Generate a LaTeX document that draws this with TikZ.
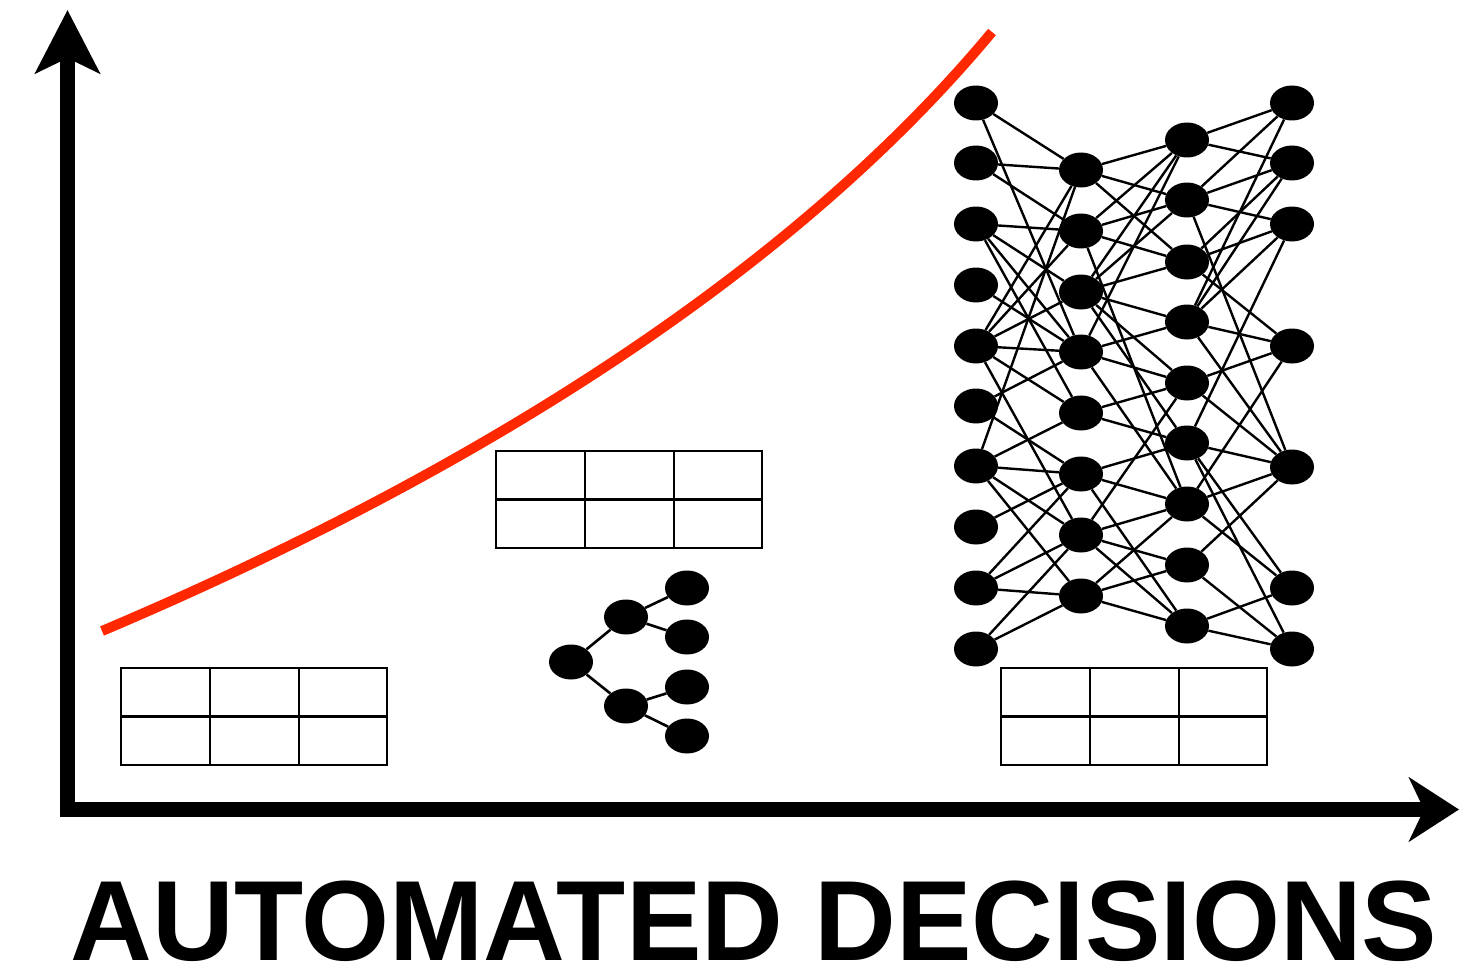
\documentclass[tikz,border=0pt]{standalone}
\usepackage{fontspec}
\setmainfont{Liberation Sans}
\usetikzlibrary{arrows.meta,shapes.geometric,backgrounds}

\definecolor{curvered}{RGB}{255,40,0}

\tikzset{
  dot/.style={ellipse,fill=black,draw=none,minimum width=44pt,minimum height=35pt,inner sep=0pt},
  netedge/.style={draw=black,line width=2.4pt},
  treeedge/.style={draw=black,line width=2.6pt},
  tableline/.style={draw=black,line width=2.4pt},
  axis/.style={line width=15pt,line join=miter},
  datatable/.pic={
    \draw[tableline] (0,0) rectangle (266,97);
    \draw[tableline] (89,0) -- (89,97) (178,0) -- (178,97) (0,48.5) -- (266,48.5);
  }
}

\begin{document}
\begin{tikzpicture}[x=1pt,y=-1pt]
\useasboundingbox (0,0) rectangle (1459,971);

% axes
\coordinate (ytip) at (67.5,10);
\coordinate (origin) at (67.5,809.5);
\coordinate (xtip) at (1459,809.5);
\draw[axis,{Stealth[length=63pt,width=64pt,inset=15pt]}-{Stealth[length=50pt,width=64pt,inset=15pt]}]
  (ytip) -- (origin) -- (xtip);

% growth curve
\coordinate (cstart) at (102,631);
\coordinate (cend) at (992,32);
\draw[curvered,line width=10pt] (cstart) .. controls (470,475) and (790,275) .. (cend);

% tables
\pic at (121,668) {datatable};
\pic at (496,451) {datatable};
\pic at (1001,668) {datatable};

% decision tree
\node[dot] (root) at (571,662) {};
\node[dot] (t1) at (626,617) {};
\node[dot] (t2) at (626,706) {};
\node[dot] (l1) at (687,588) {};
\node[dot] (l2) at (687,637) {};
\node[dot] (l3) at (687,687) {};
\node[dot] (l4) at (687,736) {};
\begin{scope}[on background layer]
  \draw[treeedge] (root) -- (t1) (root) -- (t2)
    (t1) -- (l1) (t1) -- (l2) (t2) -- (l3) (t2) -- (l4);
\end{scope}

% neural network
\foreach \i/\y in {1/103,2/163,3/224,4/285,5/346,6/406,7/466,8/527,9/588,10/649}
  \node[dot] (A\i) at (976,\y) {};
\foreach \i/\y in {1/170,2/231,3/292,4/352,5/413,6/474,7/535,8/596}
  \node[dot] (B\i) at (1081,\y) {};
\foreach \i/\y in {1/140,2/200,3/262,4/322,5/383,6/443,7/504,8/565,9/626}
  \node[dot] (C\i) at (1187,\y) {};
\foreach \i/\y in {1/103,2/163,3/224,4/346,5/467,6/588,7/649}
  \node[dot] (D\i) at (1292,\y) {};

\begin{scope}[on background layer]
  \foreach \a/\b in {
    A1/B1,A1/B4,A2/B1,A2/B2,A3/B2,A3/B3,A3/B4,A3/B5,A4/B4,
    A5/B1,A5/B2,A5/B3,A5/B4,A5/B5,A5/B7,A6/B4,A6/B6,
    A7/B1,A7/B5,A7/B6,A7/B7,A7/B8,A8/B6,A9/B6,A9/B7,A9/B8,A10/B7,A10/B8,
    B1/C1,B1/C2,B1/C3,B2/C1,B2/C2,B2/C3,B2/C7,
    B3/C1,B3/C2,B3/C3,B3/C4,B3/C5,B3/C6,B4/C1,B4/C4,B4/C5,B4/C7,
    B5/C5,B5/C6,B6/C6,B6/C7,B6/C9,B7/C5,B7/C7,B7/C8,B7/C9,B8/C7,B8/C8,B8/C9,
    C1/D1,C1/D2,C2/D1,C2/D2,C2/D3,C2/D5,C3/D2,C3/D3,C3/D4,
    C4/D1,C4/D2,C4/D3,C4/D4,C4/D5,C5/D4,C5/D5,
    C6/D3,C6/D5,C6/D6,C6/D7,C7/D4,C7/D5,C7/D6,C8/D5,C8/D7,C9/D6,C9/D7}
    \draw[netedge] (\a) -- (\b);
\end{scope}

% axis label
\node[anchor=base,inner sep=0pt,text depth=0pt,font=\bfseries\fontsize{114}{114}\selectfont,xscale=0.993] (label) at (754,960) {AUTOMATED DECISIONS};
\end{tikzpicture}
\end{document}
